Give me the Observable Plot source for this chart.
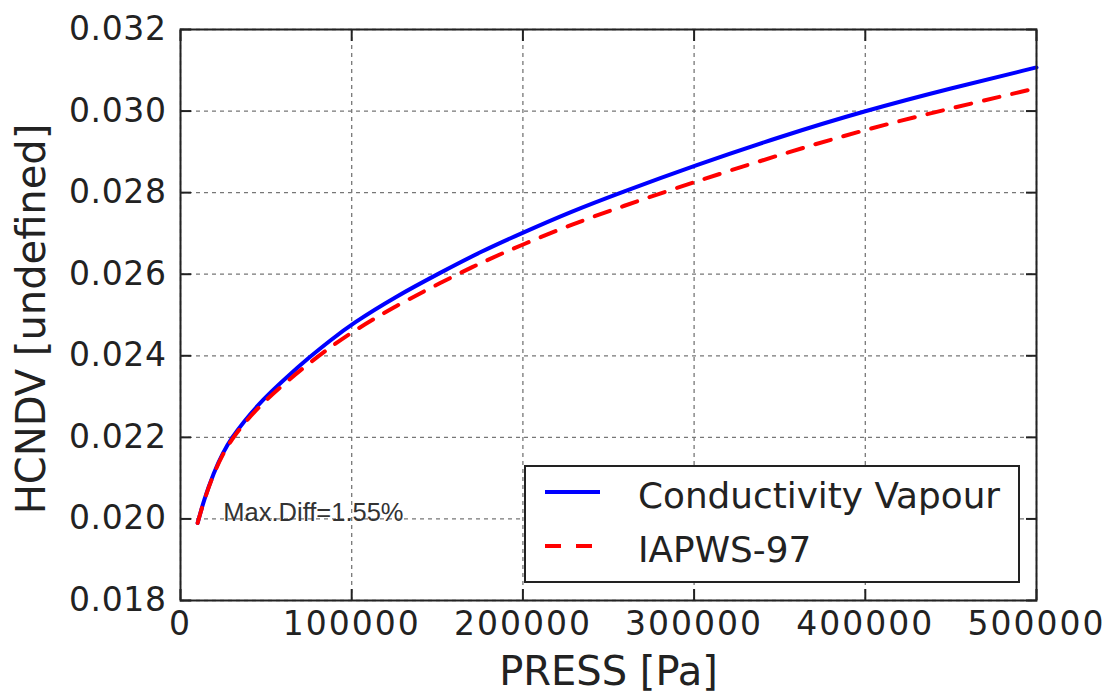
<!DOCTYPE html>
<html><head><meta charset="utf-8">
<script src="https://cdn.jsdelivr.net/npm/d3@7"></script>
<script src="https://cdn.jsdelivr.net/npm/@observablehq/plot@0.6"></script>
<style>
body{margin:0;background:#fff;}
#chart{position:relative;width:1105px;height:698px;}
#chart g[aria-label="x-axis tick label"] text{letter-spacing:2px;}
#chart g[aria-label="y-axis tick label"] text{letter-spacing:0.6px;}
</style>
</head><body><div id="chart"></div>
<script>
const pressure = [10000, 13600, 19300, 25100, 29800, 36800, 47900, 61300, 74800, 87600, 100000, 125600, 151900, 175200, 200000, 227800, 257000, 300000, 350000, 400000, 450000, 500000];
const conductivityVapour = [0.01990, 0.02045, 0.02113, 0.02165, 0.02198, 0.02238, 0.02292, 0.02345, 0.02395, 0.02438, 0.02478, 0.02545, 0.02604, 0.02655, 0.02702, 0.02753, 0.02800, 0.02866, 0.02937, 0.03001, 0.03056, 0.03107];
const iapws97 = [0.01990, 0.02044, 0.02111, 0.02162, 0.02194, 0.02233, 0.02284, 0.02334, 0.02381, 0.02421, 0.02458, 0.02522, 0.02579, 0.02628, 0.02673, 0.02721, 0.02765, 0.02826, 0.02893, 0.02955, 0.03007, 0.03056];
const seriesNames = ["Conductivity Vapour", "IAPWS-97"];
const xTicks = [0, 100000, 200000, 300000, 400000, 500000];
const yTicks = [0.018, 0.020, 0.022, 0.024, 0.026, 0.028, 0.030, 0.032];
const xLabel = "PRESS [Pa]";
const yLabel = "HCNDV [undefined]";
const annotation = [{x: 25000, y: 0.01996, text: "Max.Diff=1.55%"}];

const blueData = pressure.map((p, i) => ({x: p, y: conductivityVapour[i]}));
const redData = pressure.map((p, i) => ({x: p, y: iapws97[i]}));

const font = "DejaVu Sans";
const plot = Plot.plot({
  width: 1105, height: 698,
  marginLeft: 180, marginRight: 69, marginTop: 29, marginBottom: 98,
  style: {fontFamily: font, fontSize: "33px", color: "#222", background: "#fff"},
  x: {domain: [0, 500000]},
  y: {domain: [0.018, 0.032]},
  marks: [
    Plot.gridX(xTicks, {stroke: "#777", strokeOpacity: 1, strokeDasharray: "4,4", strokeWidth: 1.3}),
    Plot.gridY(yTicks, {stroke: "#777", strokeOpacity: 1, strokeDasharray: "4,4", strokeWidth: 1.3}),
    Plot.line(blueData, {x: "x", y: "y", stroke: "#0000ff", strokeWidth: 4, curve: "basis"}),
    Plot.line(redData, {x: "x", y: "y", stroke: "#ff0000", strokeWidth: 4, strokeDasharray: "16,13", curve: "basis"}),
    Plot.text(annotation, {x: "x", y: "y", text: "text", textAnchor: "start", lineAnchor: "bottom", fontFamily: "Liberation Sans", fontSize: 25.5, fill: "#333"}),
    Plot.axisX(xTicks, {anchor: "bottom", tickSize: -11, tickPadding: 22, tickFormat: d => String(d), label: null, strokeWidth: 2, stroke: "#222"}),
    Plot.axisX(xTicks, {anchor: "top", tickSize: -11, tickFormat: () => "", label: null, strokeWidth: 2, stroke: "#222"}),
    Plot.axisY(yTicks, {anchor: "left", tickSize: -11, tickPadding: 25, tickFormat: d => d.toFixed(3), label: null, strokeWidth: 2, stroke: "#222"}),
    Plot.axisY(yTicks, {anchor: "right", tickSize: -11, tickFormat: () => "", label: null, strokeWidth: 2, stroke: "#222"}),
    Plot.frame({stroke: "#222", strokeWidth: 2}),
    Plot.text([xLabel], {text: d => d, frameAnchor: "bottom", dy: 72, fontSize: 40, textAnchor: "middle", lineAnchor: "middle", fill: "#222"}),
    Plot.text([yLabel], {text: d => d, frameAnchor: "left", dx: -148, dy: 4, rotate: -90, fontSize: 40, textAnchor: "middle", lineAnchor: "middle", fill: "#222"})
  ]
});
const chart = document.getElementById("chart");
chart.appendChild(plot);

// legend
const leg = d3.create("svg").attr("width", 496).attr("height", 118)
  .style("position", "absolute").style("left", "524px").style("top", "465px");
leg.append("rect").attr("x", 1).attr("y", 1).attr("width", 494).attr("height", 116)
  .attr("fill", "#fff").attr("stroke", "#222").attr("stroke-width", 2);
const rows = [
  {name: seriesNames[0], color: "#0000ff", dash: null},
  {name: seriesNames[1], color: "#ff0000", dash: "16,15"}
];
rows.forEach((r, i) => {
  const cy = 27 + i * 54;
  leg.append("line").attr("x1", 21).attr("x2", r.dash ? 70 : 76).attr("y1", cy).attr("y2", cy)
    .attr("stroke", r.color).attr("stroke-width", 4).attr("stroke-dasharray", r.dash);
  leg.append("text").attr("x", 114).attr("y", cy + 16).text(r.name)
    .attr("font-family", font).attr("font-size", 35.8).attr("fill", "#222");
});
chart.appendChild(leg.node());
</script>
</body></html>
